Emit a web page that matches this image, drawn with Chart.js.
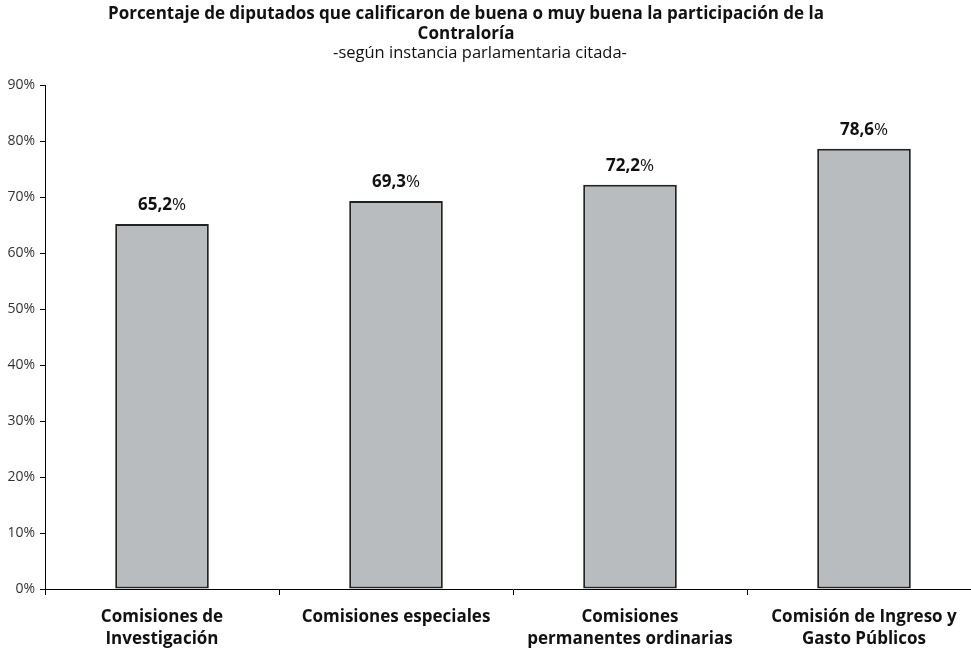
<!DOCTYPE html>
<html>
<head>
<meta charset="utf-8">
<script src="https://cdn.jsdelivr.net/npm/chart.js@4"></script>
<style>
  html, body { margin: 0; padding: 0; background: #fff; overflow: hidden; }
  #wrap { width: 981px; height: 649px; }
</style>
</head>
<body>
<div id="wrap"><canvas id="chart-bars" width="981" height="649"></canvas></div>
<script>
const categories = [
  ["Comisiones de", "Investigación"],
  ["Comisiones especiales"],
  ["Comisiones", "permanentes ordinarias"],
  ["Comisión de Ingreso y", "Gasto Públicos"]
];
const values = [65.2, 69.3, 72.2, 78.6];
const yTicks = [0, 10, 20, 30, 40, 50, 60, 70, 80, 90];
const titleLines = ["Porcentaje de diputados que calificaron de buena o muy buena la participación de la", "Contraloría"];
const subtitle = "-según instancia parlamentaria citada-";

// title + subtitle drawn by hand so they sit where the original has them
const headerPlugin = {
  id: "header",
  afterDraw(chart) {
    const ctx = chart.ctx;
    ctx.save();
    ctx.fillStyle = "#111";
    ctx.textAlign = "center";
    ctx.textBaseline = "middle";
    ctx.font = "bold 17px 'Open Sans'";
    ctx.fillText(titleLines[0], 466, 14);
    ctx.fillText(titleLines[1], 466, 34);
    ctx.font = "16.5px 'Open Sans'";
    ctx.fillText(subtitle, 480, 53);
    ctx.restore();
  }
};

// "65,2%" labels above the bars
const valueLabels = {
  id: "valueLabels",
  afterDatasetsDraw(chart) {
    const ctx = chart.ctx;
    const meta = chart.getDatasetMeta(0);
    ctx.save();
    ctx.fillStyle = "#111";
    ctx.textBaseline = "middle";
    ctx.textAlign = "left";
    meta.data.forEach((bar, i) => {
      const num = values[i].toFixed(1).replace(".", ",");
      ctx.font = "bold 17px 'Open Sans'";
      const w1 = ctx.measureText(num).width;
      ctx.font = "17px 'Open Sans'";
      const w2 = ctx.measureText("%").width;
      const x0 = bar.x - (w1 + w2) / 2;
      const y = bar.y - 19;
      ctx.font = "bold 17px 'Open Sans'";
      ctx.fillText(num, x0, y);
      ctx.font = "17px 'Open Sans'";
      ctx.fillText("%", x0 + w1, y);
    });
    ctx.restore();
  }
};

var ctx = document.getElementById("chart-bars").getContext("2d");
new Chart(ctx, {
  type: "bar",
  data: {
    labels: categories,
    datasets: [{
      label: "Porcentaje",
      data: values,
      backgroundColor: "#b8bcbe",
      borderColor: "#222",
      borderWidth: 2,
      borderSkipped: false,
      categoryPercentage: 0.4,
      barPercentage: 1.0
    }]
  },
  options: {
    responsive: false,
    animation: false,
    layout: { padding: { top: 85, right: 0, bottom: 0, left: 0 } },
    plugins: {
      legend: { display: false },
      tooltip: { enabled: false }
    },
    scales: {
      y: {
        min: 0,
        max: 90,
        afterFit(scale) { scale.width = 45; },
        afterBuildTicks(scale) { scale.ticks = yTicks.map(v => ({ value: v })); },
        grid: {
          display: true,
          drawOnChartArea: false,
          drawTicks: true,
          tickLength: 5,
          color: "#000"
        },
        border: { display: true, color: "#000", width: 1 },
        ticks: {
          padding: 5,
          color: "#333",
          font: { size: 14, family: "Open Sans" },
          callback: v => v + "%"
        }
      },
      x: {
        afterFit(scale) { scale.height = 60; },
        grid: {
          display: true,
          offset: true,
          drawOnChartArea: false,
          drawTicks: true,
          tickLength: 6,
          color: "#000"
        },
        border: { display: true, color: "#000", width: 1 },
        ticks: {
          padding: 11,
          maxRotation: 0,
          autoSkip: false,
          color: "#111",
          font: { size: 17, family: "Open Sans", weight: "bold", lineHeight: 1.3 }
        }
      }
    }
  },
  plugins: [headerPlugin, valueLabels]
});
</script>
</body>
</html>
